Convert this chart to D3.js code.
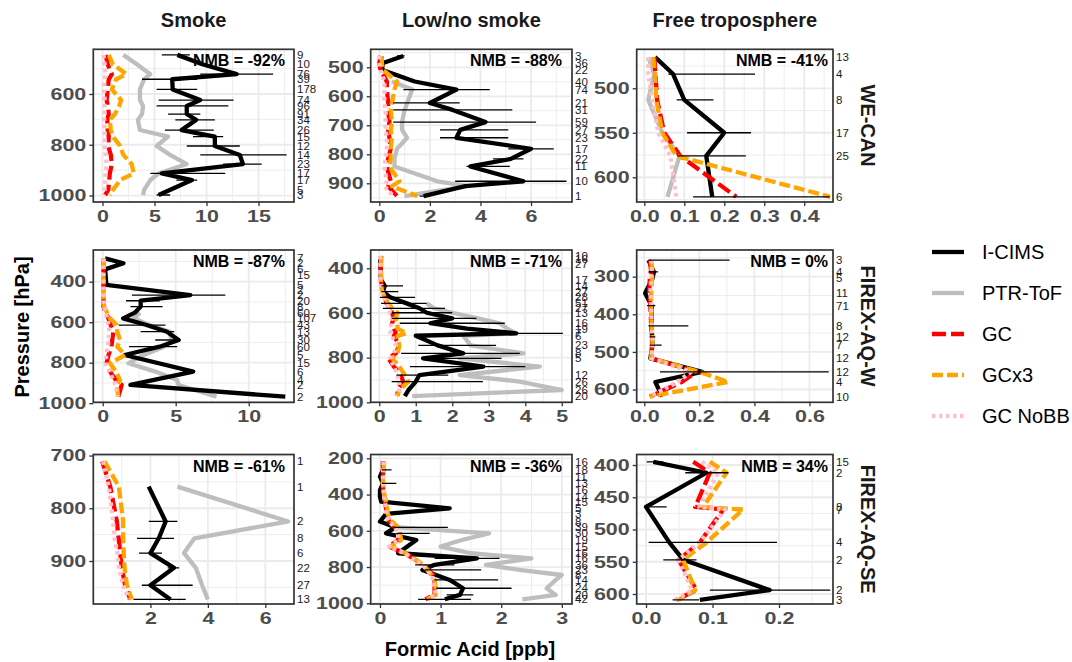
<!DOCTYPE html>
<html><head><meta charset="utf-8">
<script src="https://cdn.jsdelivr.net/npm/d3@7"></script>
<style>body{margin:0;background:#fff}svg{display:block}text{font-family:"Liberation Sans",Arial,Helvetica,sans-serif}</style>
</head><body><svg id="chart" width="1072" height="662"></svg>
<script>
const colTitles = ["Smoke", "Low/no smoke", "Free troposphere"];
const rowTitles = ["WE-CAN", "FIREX-AQ-W", "FIREX-AQ-SE"];
const seriesNames = ["I-CIMS", "PTR-ToF", "GC", "GCx3", "GC NoBB"];
const xTitle = "Formic Acid [ppb]";
const yTitle = "Pressure [hPa]";

// ---------- Panel 1: Smoke / WE-CAN ----------
const p1Pressure = [446, 483, 522, 542, 582, 624, 647, 679, 702, 742, 768, 805, 840, 876, 913, 939, 978, 998];
const p1Count = [9, 10, 76, 39, 178, 74, 96, 91, 34, 26, 15, 12, 14, 23, 17, 17, 5, 3];
const p1ICIMS = [7.2, 9.6, 12.9, 6.7, 6.75, 9.4, 8.1, 8.1, 9.0, 7.6, 10.8, 10.8, 13.2, 13.5, 5.7, 8.6, null, 5.4];
const p1Lo = [5.7, null, 9.4, 3.8, 5.2, 5.4, 5.2, 6.3, 7.0, 6.0, 8.7, 8.1, 9.4, 11.6, 4.6, 7.1, null, 5.2];
const p1Hi = [8.4, null, 16.4, 9.1, 9.1, 12.6, 12.1, 9.4, 10.8, 10.7, 11.6, 13.2, 17.7, 15.3, 11.8, 9.1, null, 6.5];
const p1PTR = [2.0, 3.3, 4.6, 4.0, 3.6, 3.6, 3.9, 3.8, 3.4, 3.6, 6.3, 5.2, 6.5, 8.1, 5.4, 4.6, 4.0, 3.9];
const p1GC = [0.3, 0.5, 0.9, 0.6, 0.5, 0.4, 0.5, 0.6, 0.45, 0.5, 0.6, 0.55, 0.8, 0.9, 0.7, 0.65, 0.55, 0.25];
const p1GCx3 = [0.6, 1.0, 2.3, 1.3, 0.9, 1.8, 1.6, 1.2, 0.7, 0.8, 1.0, 1.7, 2.0, 2.8, 3.0, 1.7, 1.0, 0.7];
const p1NoBB = [0.1, 0.2, 0.3, 0.2, 0.15, 0.2, 0.2, 0.2, 0.15, 0.2, 0.25, 0.2, 0.3, 0.4, 0.3, 0.25, 0.2, 0.1];
const p1XTicks = [0, 5, 10, 15];
const p1YTicks = [600, 800, 1000];
const p1XLim = [-0.885, 18.41];
const p1YLim = [424, 1025.5];
const p1NMB = "NMB = -92%";

// ---------- Panel 2: Low/no smoke / WE-CAN ----------
const p2Pressure = [461, 485, 509, 549, 577, 623, 647, 689, 716, 743, 781, 816, 842, 893, 910, 944];
const p2Count = [3, 36, 22, 40, 74, 21, 31, 59, 27, 23, 17, 22, 11, 10, null, 1];
const p2ICIMS = [0.95, 0.15, 0.1, 1.4, 3.05, 2.0, 2.9, 4.2, 3.2, 3.05, 6.0, 5.2, 3.6, 5.7, 3.4, 1.75];
const p2Lo = [0.7, null, null, null, 0.95, 0.55, 0.55, 0.55, 2.4, 2.4, 5.1, 4.5, 3.45, 3.0, null, 1.6];
const p2Hi = [1.0, null, null, null, 4.37, 3.18, 5.26, 6.2, 5.1, 5.1, 6.9, 5.7, 5.16, 7.4, null, 1.9];
const p2PTR = [null, null, null, 0.5, 1.3, 1.1, 1.0, 0.9, 0.9, 1.1, 0.7, 0.6, 0.6, 2.3, 3.5, 1.0];
const p2GC = [0.05, 0.0, 0.05, 0.3, 0.3, 0.35, 0.35, 0.4, 0.35, 0.4, 0.45, 0.35, 0.3, 0.45, 0.35, 0.7];
const p2GCx3 = [0.1, 0.1, 0.15, 0.7, 0.6, 0.5, 0.45, 0.5, 0.45, 0.5, 0.45, 0.45, 0.4, 0.8, 0.5, 1.5];
const p2NoBB = [0.0, 0.0, 0.05, 0.2, 0.2, 0.2, 0.25, 0.25, 0.25, 0.3, 0.3, 0.25, 0.2, 0.3, 0.2, 0.55];
const p2XTicks = [0, 2, 4, 6];
const p2YTicks = [500, 600, 700, 800, 900];
const p2XLim = [-0.34, 7.62];
const p2YLim = [438, 964.5];
const p2NMB = "NMB = -88%";

// ---------- Panel 3: Free troposphere / WE-CAN ----------
const p3Pressure = [465, 484, 513, 550, 576, 622];
const p3Count = [13, 4, 8, 17, 25, 6];
const p3ICIMS = [0.027, 0.072, 0.1, 0.2, 0.155, 0.17];
const p3Lo = [null, 0.06, 0.081, 0.107, 0.083, 0.122];
const p3Hi = [null, 0.277, 0.173, 0.267, 0.254, 0.464];
const p3PTR = [0.01, 0.025, 0.01, 0.045, 0.088, 0.058];
const p3GC = [0.025, 0.028, 0.032, 0.05, 0.09, 0.23];
const p3GCx3 = [0.022, 0.027, 0.03, 0.045, 0.08, 0.465];
const p3NoBB = [0.01, 0.01, 0.02, 0.035, 0.065, 0.08];
const p3XTicks = [0, 0.1, 0.2, 0.3, 0.4];
const p3YTicks = [500, 550, 600];
const p3XLim = [-0.019, 0.472];
const p3YLim = [456.2, 627.8];
const p3NMB = "NMB = -41%";

// ---------- Panel 4: Smoke / FIREX-AQ-W ----------
const p4Pressure = [285, 309, 339, 367, 416, 441, 466, 494, 523, 553, 581, 614, 647, 688, 721, 762, 803, 844, 886, 910, 968];
const p4Count = [7, 2, 6, 15, 5, 2, 2, 20, 8, 60, 107, 43, 13, 30, 60, 5, 15, 6, 4, 2, 2];
const p4ICIMS = [0.16, 1.42, 0.16, 0.2, 0.25, null, 6.0, 2.6, 2.6, 2.2, 1.4, 3.0, 4.4, 5.2, 3.9, 1.5, null, 6.2, null, 1.9, 12.5];
const p4Lo = [null, null, null, null, null, null, 2.0, 1.6, 1.9, null, null, 1.1, 2.6, 3.6, 1.8, null, null, null, null, null, null];
const p4Hi = [null, null, null, null, null, null, 8.4, 3.9, 4.1, null, null, 4.3, 4.9, 5.0, 5.1, null, null, null, null, null, null];
const p4PTR = [null, null, null, null, null, null, null, null, null, 2.56, 2.1, 3.2, 4.6, 4.7, 4.2, 2.8, 1.76, 3.6, 5.1, 5.2, 7.8];
const p4GC = [0.05, 0.05, 0.05, 0.05, 0.05, 0.05, 0.05, 0.05, 0.05, 0.2, 0.39, 0.55, 0.73, 0.65, 0.6, 0.4, 0.27, 0.5, 0.9, 1.3, 1.07];
const p4GCx3 = [0.1, 0.05, 0.05, 0.05, 0.05, 0.05, 0.05, 0.05, 0.1, 0.3, 0.5, 0.96, 1.0, 1.19, 1.0, 1.53, 0.5, 0.9, 1.19, 0.96, 1.07];
const p4NoBB = [0.05, 0.05, 0.05, 0.05, 0.05, 0.05, 0.05, 0.05, 0.1, 0.2, 0.3, 0.4, 0.45, 0.4, 0.35, 0.25, 0.2, 0.5, 0.7, 0.9, 1.0];
const p4XTicks = [0, 5, 10];
const p4YTicks = [400, 600, 800, 1000];
const p4XLim = [-0.644, 13.1];
const p4YLim = [243.5, 995.6];
const p4NMB = "NMB = -87%";

// ---------- Panel 5: Low/no smoke / FIREX-AQ-W ----------
const p5Pressure = [345, 360, 381, 452, 479, 504, 530, 557, 579, 599, 624, 646, 670, 691, 702, 745, 781, 803, 840, 878, 907, 945, 972];
const p5Count = [10, 16, 27, 17, 14, 27, 28, 51, 27, 13, null, 16, 19, 7, 6, 23, 8, 5, null, 12, 26, 26, 20];
const p5ICIMS = [0.03, 0.03, 0.03, 0.05, 0.15, 0.1, 0.3, 0.75, 1.1, 1.3, 2.0, 1.4, 2.4, 3.75, 1.0, 1.6, 2.3, 1.2, 2.85, 1.1, 1.0, 0.8, 0.7];
const p5Lo = [null, null, null, null, 0.06, 0.06, 0.02, 0.05, 0.1, 0.34, 0.34, 0.56, null, 2.47, null, 1.07, 0.6, 1.2, 0.84, 0.47, 0.34, null, null];
const p5Hi = [null, null, null, null, 0.65, 0.52, 0.98, 1.3, 1.8, 2.0, 2.66, 3.44, null, 5.03, null, 3.2, 3.85, 3.35, 4.0, 1.89, 2.84, null, null];
const p5PTR = [null, null, null, null, null, null, null, 1.3, 1.5, 2.0, 2.7, 3.3, 3.5, 3.75, 2.3, 2.5, 3.95, 2.2, 4.4, 2.2, 3.85, 5.0, 0.9];
const p5GC = [0.05, 0.05, 0.04, 0.04, 0.08, 0.1, 0.15, 0.2, 0.3, 0.35, 0.4, 0.35, 0.4, 0.45, 0.4, 0.55, 0.45, 0.25, 0.4, 0.6, 0.65, 0.5, 0.5];
const p5GCx3 = [0.03, 0.05, 0.05, 0.05, 0.05, 0.08, 0.15, 0.25, 0.35, 0.5, 0.45, 0.5, 0.5, 0.75, 0.5, 0.55, 0.5, 0.35, 0.55, 0.7, 0.8, 0.55, 0.5];
const p5NoBB = [0.02, 0.03, 0.03, 0.03, 0.05, 0.08, 0.12, 0.2, 0.25, 0.3, 0.35, 0.3, 0.35, 0.3, 0.35, 0.45, 0.4, 0.3, 0.4, 0.5, 0.55, 0.55, 0.45];
const p5XTicks = [0, 1, 2, 3, 4, 5];
const p5YTicks = [400, 600, 800, 1000];
const p5XLim = [-0.235, 5.28];
const p5YLim = [318, 1000];
const p5NMB = "NMB = -71%";

// ---------- Panel 6: Free troposphere / FIREX-AQ-W ----------
const p6Pressure = [256, 287, 304, 344, 377, 431, 460, 482, 517, 553, 580, 619];
const p6Count = [3, 4, 5, 11, 71, 8, 12, 7, 12, 12, 4, 10];
const p6ICIMS = [0.015, 0.035, 0.03, 0.003, 0.027, 0.027, 0.028, 0.03, 0.022, 0.21, 0.04, 0.065];
const p6Lo = [0.015, 0.015, null, null, 0.01, 0.015, 0.02, 0.02, null, 0.057, null, null];
const p6Hi = [0.31, 0.05, null, null, 0.04, 0.16, 0.04, 0.063, null, 0.67, null, null];
const p6PTR = [null, null, null, null, null, null, null, null, null, null, null, null];
const p6GC = [0.02, 0.025, 0.02, 0.018, 0.022, 0.025, 0.028, 0.028, 0.025, 0.19, 0.136, 0.02];
const p6GCx3 = [0.025, 0.03, 0.028, 0.025, 0.025, 0.027, 0.03, 0.03, 0.025, 0.2, 0.305, 0.02];
const p6NoBB = [0.025, 0.027, 0.025, 0.022, 0.025, 0.027, 0.03, 0.03, 0.025, 0.17, 0.12, 0.02];
const p6XTicks = [0, 0.2, 0.4, 0.6];
const p6YTicks = [300, 400, 500, 600];
const p6XLim = [-0.0276, 0.6855];
const p6YLim = [229, 634];
const p6NMB = "NMB = 0%";

// ---------- Panel 7: Smoke / FIREX-AQ-SE ----------
const p7Pressure = [711, 759, 825, 857, 885, 913, 946, 973];
const p7Count = [1, 1, 2, 8, 6, 22, 27, 13];
const p7ICIMS = [null, 1.94, 2.53, 2.29, 2.0, 2.82, 2.0, 2.7];
const p7Lo = [null, null, 1.94, 1.53, 1.6, 2.6, 1.7, 1.41];
const p7Hi = [null, null, 2.94, 2.82, 2.4, 3.0, 3.47, 3.23];
const p7PTR = [null, 2.94, 6.8, 3.53, 3.17, 3.58, 3.8, 4.0];
const p7GC = [0.32, 0.6, 0.83, 0.89, 0.95, 1.0, 1.12, 1.3];
const p7GCx3 = [0.4, 0.9, 1.05, 1.05, 1.07, 1.1, 1.18, 1.35];
const p7NoBB = [0.35, 0.55, 0.7, 0.75, 0.85, 0.9, 1.05, 1.25];
const p7XTicks = [2, 4, 6];
const p7YTicks = [700, 800, 900];
const p7XLim = [0.01, 7.0];
const p7YLim = [698, 981.6];
const p7NMB = "NMB = -61%";

// ---------- Panel 8: Low/no smoke / FIREX-AQ-SE ----------
const p8Pressure = [218, 264, 301, 338, 375, 412, 439, 476, 507, 549, 581, 614, 651, 687, 724, 752, 788, 816, 844, 871, 917, 954, 978];
const p8Count = [16, 18, 11, 13, 16, 14, 15, 5, 3, 8, 39, 30, 19, 15, 16, 16, 36, 23, 8, 14, 24, 20, 42];
const p8ICIMS = [0.05, 0.05, 0.0, 0.05, 0.0, 0.0, 0.02, 1.15, 0.1, 0.0, 0.25, 0.1, 0.6, 0.45, 0.3, 1.6, 0.9, 0.7, null, 1.15, 1.37, 1.32, 1.07];
const p8Lo = [null, 0.03, null, 0.03, null, null, null, null, null, null, 0.22, 0.27, null, null, null, 0.9, 0.58, 0.74, null, 0.9, 0.93, 1.1, 0.63];
const p8Hi = [null, 0.19, null, 0.27, null, null, null, null, null, null, 1.12, 0.82, null, null, null, 1.97, 1.23, 1.67, null, 1.95, 2.17, 1.54, 1.5];
const p8PTR = [null, null, null, null, null, null, null, null, null, null, 0.3, 1.8, 1.35, 1.0, 1.5, 2.5, 1.75, 2.3, 3.0, 2.9, 2.75, 2.9, 2.35];
const p8GC = [0.05, 0.05, 0.05, 0.05, 0.05, 0.05, 0.08, 0.1, 0.12, 0.15, 0.25, 0.3, 0.3, 0.15, 0.4, 0.55, 0.7, 0.8, 0.88, 0.9, 0.9, 0.9, 0.75];
const p8GCx3 = [0.07, 0.06, 0.05, 0.05, 0.06, 0.08, 0.1, 0.12, 0.13, 0.2, 0.3, 0.33, 0.35, 0.18, 0.42, 0.55, 0.72, 0.78, 0.85, 0.9, 0.92, 0.92, 0.78];
const p8NoBB = [0.06, 0.05, 0.05, 0.05, 0.06, 0.07, 0.08, 0.1, 0.1, 0.15, 0.25, 0.3, 0.3, 0.15, 0.4, 0.52, 0.7, 0.78, 0.85, 0.88, 0.9, 0.92, 0.78];
const p8XTicks = [0, 1, 2, 3];
const p8YTicks = [200, 400, 600, 800, 1000];
const p8XLim = [-0.153, 3.168];
const p8YLim = [179, 1004];
const p8NMB = "NMB = -36%";

// ---------- Panel 9: Free troposphere / FIREX-AQ-SE ----------
const p9Pressure = [395, 412, 465, 469, 520, 547, 594, 609];
const p9Count = [15, 2, 8, 7, 4, 2, 2, 3];
const p9ICIMS = [0.011, 0.091, 0.0, null, 0.035, 0.056, 0.186, 0.081];
const p9Lo = [0.001, 0.059, 0.001, null, 0.004, 0.026, 0.096, 0.04];
const p9Hi = [0.026, 0.124, 0.031, null, 0.197, 0.076, 0.277, 0.08];
const p9PTR = [null, null, null, null, null, null, null, null];
const p9GC = [0.071, 0.096, 0.074, 0.116, 0.081, 0.049, 0.076, 0.046];
const p9GCx3 = [0.096, 0.121, 0.086, 0.146, 0.091, 0.056, 0.074, 0.049];
const p9NoBB = [0.084, 0.109, 0.08, 0.119, 0.081, 0.049, 0.069, 0.044];
const p9XTicks = [0, 0.1, 0.2];
const p9YTicks = [400, 450, 500, 550, 600];
const p9XLim = [-0.014, 0.2812];
const p9YLim = [383.7, 615.5];
const p9NMB = "NMB = 34%";

// ---------- assemble ----------
const mk = (pressure, count, icims, lo, hi, ptr, gc, gcx3, nobb, xTicks, yTicks, xLim, yLim, nmb) =>
  ({pressure, count, icims, lo, hi, ptr, gc, gcx3, nobb, xTicks, yTicks, xLim, yLim, nmb});
const panels = [
  mk(p1Pressure, p1Count, p1ICIMS, p1Lo, p1Hi, p1PTR, p1GC, p1GCx3, p1NoBB, p1XTicks, p1YTicks, p1XLim, p1YLim, p1NMB),
  mk(p2Pressure, p2Count, p2ICIMS, p2Lo, p2Hi, p2PTR, p2GC, p2GCx3, p2NoBB, p2XTicks, p2YTicks, p2XLim, p2YLim, p2NMB),
  mk(p3Pressure, p3Count, p3ICIMS, p3Lo, p3Hi, p3PTR, p3GC, p3GCx3, p3NoBB, p3XTicks, p3YTicks, p3XLim, p3YLim, p3NMB),
  mk(p4Pressure, p4Count, p4ICIMS, p4Lo, p4Hi, p4PTR, p4GC, p4GCx3, p4NoBB, p4XTicks, p4YTicks, p4XLim, p4YLim, p4NMB),
  mk(p5Pressure, p5Count, p5ICIMS, p5Lo, p5Hi, p5PTR, p5GC, p5GCx3, p5NoBB, p5XTicks, p5YTicks, p5XLim, p5YLim, p5NMB),
  mk(p6Pressure, p6Count, p6ICIMS, p6Lo, p6Hi, p6PTR, p6GC, p6GCx3, p6NoBB, p6XTicks, p6YTicks, p6XLim, p6YLim, p6NMB),
  mk(p7Pressure, p7Count, p7ICIMS, p7Lo, p7Hi, p7PTR, p7GC, p7GCx3, p7NoBB, p7XTicks, p7YTicks, p7XLim, p7YLim, p7NMB),
  mk(p8Pressure, p8Count, p8ICIMS, p8Lo, p8Hi, p8PTR, p8GC, p8GCx3, p8NoBB, p8XTicks, p8YTicks, p8XLim, p8YLim, p8NMB),
  mk(p9Pressure, p9Count, p9ICIMS, p9Lo, p9Hi, p9PTR, p9GC, p9GCx3, p9NoBB, p9XTicks, p9YTicks, p9XLim, p9YLim, p9NMB)
];

const styles = {
  icims: {name: seriesNames[0], stroke: "#000000", dash: null},
  ptr:   {name: seriesNames[1], stroke: "#BEBEBE", dash: null},
  gc:    {name: seriesNames[2], stroke: "#FF0000", dash: "14,5"},
  gcx3:  {name: seriesNames[3], stroke: "#FFA500", dash: "11,4"},
  nobb:  {name: seriesNames[4], stroke: "#FFC0CB", dash: "3.5,3.5"}
};
const LW = 4.3;
const drawOrder = ["ptr", "icims", "gc", "gcx3", "nobb"];

const colX = [[93.3, 294], [370.7, 572], [636.7, 833]];
const rowY = [[49.3, 202], [250, 402.3], [454.5, 604]];
const nmbPad = [9, 10, 5];
const TS = 1.3; // horizontal stretch of tick labels seen in the reference

const svg = d3.select("#chart");
svg.append("rect").attr("width", 1072).attr("height", 662).attr("fill", "#fff");

function minorBreaks(ticks, lim) {
  const step = ticks[1] - ticks[0];
  const lo = Math.min(lim[0], lim[1]), hi = Math.max(lim[0], lim[1]);
  const out = [];
  for (let k = -10; k < ticks.length + 10; k++) {
    const v = ticks[0] + step * (k + 0.5);
    if (v > lo + 1e-9 && v < hi - 1e-9) out.push(v);
  }
  return out;
}

panels.forEach((P, i) => {
  const c = i % 3, r = Math.floor(i / 3);
  const [x0, x1] = colX[c], [y0, y1] = rowY[r];
  const x = d3.scaleLinear().domain(P.xLim).range([x0, x1]);
  const y = d3.scaleLinear().domain(P.yLim).range([y0, y1]);
  const g = svg.append("g");
  const cid = "clip" + i;
  svg.append("clipPath").attr("id", cid).append("rect")
    .attr("x", x0).attr("y", y0).attr("width", x1 - x0).attr("height", y1 - y0);
  g.append("rect").attr("x", x0).attr("y", y0).attr("width", x1 - x0).attr("height", y1 - y0).attr("fill", "#fff");

  const grid = g.append("g");
  minorBreaks(P.xTicks, P.xLim).forEach(v => grid.append("line").attr("x1", x(v)).attr("x2", x(v)).attr("y1", y0).attr("y2", y1).attr("stroke", "#EBEBEB").attr("stroke-width", 0.9));
  minorBreaks(P.yTicks, P.yLim).forEach(v => grid.append("line").attr("y1", y(v)).attr("y2", y(v)).attr("x1", x0).attr("x2", x1).attr("stroke", "#EBEBEB").attr("stroke-width", 0.9));
  P.xTicks.forEach(v => grid.append("line").attr("x1", x(v)).attr("x2", x(v)).attr("y1", y0).attr("y2", y1).attr("stroke", "#EBEBEB").attr("stroke-width", 1.8));
  P.yTicks.forEach(v => grid.append("line").attr("y1", y(v)).attr("y2", y(v)).attr("x1", x0).attr("x2", x1).attr("stroke", "#EBEBEB").attr("stroke-width", 1.8));

  const plot = g.append("g").attr("clip-path", `url(#${cid})`);
  const line = d3.line().x(d => x(d.v)).y(d => y(d.p));
  drawOrder.forEach(key => {
    const pts = P.pressure.map((p, j) => ({p, v: P[key][j]})).filter(d => d.v !== null && d.v !== undefined);
    if (pts.length < 2) return;
    const s = styles[key];
    const path = plot.append("path").datum(pts).attr("d", line)
      .attr("fill", "none").attr("stroke", s.stroke).attr("stroke-width", LW)
      .attr("stroke-linejoin", "round").attr("stroke-linecap", "butt");
    if (s.dash) path.attr("stroke-dasharray", s.dash);
  });
  P.pressure.forEach((p, j) => {
    if (P.lo[j] === null || P.hi[j] === null) return;
    plot.append("line").attr("x1", x(P.lo[j])).attr("x2", x(P.hi[j])).attr("y1", y(p)).attr("y2", y(p))
      .attr("stroke", "#000").attr("stroke-width", 1.3);
  });

  g.append("rect").attr("x", x0).attr("y", y0).attr("width", x1 - x0).attr("height", y1 - y0)
    .attr("fill", "none").attr("stroke", "#333333").attr("stroke-width", 1.7);

  const fmt = c === 2 ? d3.format(".1f") : d3.format("d");
  const xa = g.append("g").attr("transform", `translate(0,${y1})`)
    .call(d3.axisBottom(x).tickValues(P.xTicks).tickSize(4).tickPadding(4).tickFormat(fmt));
  const ya = g.append("g").attr("transform", `translate(${x0},0)`)
    .call(d3.axisLeft(y).tickValues(P.yTicks).tickSize(4).tickPadding(3).tickFormat(d3.format("d")));
  [xa, ya].forEach(a => {
    a.select(".domain").remove();
    a.selectAll(".tick line").attr("stroke", "#333333").attr("stroke-width", 1.3);
    a.selectAll(".tick text").attr("fill", "#4D4D4D").style("font-size", "16.5px").style("font-weight", "bold")
      .style("font-family", '"Liberation Sans", Arial, sans-serif')
      .each(function () {
        const t = d3.select(this);
        const tx = +t.attr("x") || 0, ty = +t.attr("y") || 0;
        t.attr("x", 0).attr("y", 0).attr("transform", `translate(${tx},${ty}) scale(${TS},1)`);
      });
  });

  P.pressure.forEach((p, j) => {
    if (P.count[j] === null) return;
    g.append("text").attr("x", x1 + 3).attr("y", y(p)).attr("dy", "0.35em")
      .attr("font-size", 11.5).attr("fill", "#1a1a1a").text(P.count[j]);
  });

  g.append("text").attr("x", x1 - nmbPad[c]).attr("y", y0 + 17).attr("text-anchor", "end")
    .attr("font-size", 16).attr("font-weight", "bold").attr("fill", "#000").text(P.nmb);
});

// column titles
colTitles.forEach((t, c) => {
  svg.append("text").attr("x", (colX[c][0] + colX[c][1]) / 2).attr("y", 27).attr("text-anchor", "middle")
    .attr("font-size", 20).attr("font-weight", "bold").attr("fill", "#1a1a1a").text(t);
});
// row strip titles
rowTitles.forEach((t, r) => {
  svg.append("text").attr("transform", `translate(861,${(rowY[r][0] + rowY[r][1]) / 2}) rotate(90)`)
    .attr("text-anchor", "middle").attr("font-size", 20).attr("font-weight", "bold").attr("fill", "#1a1a1a").text(t);
});
// axis titles
svg.append("text").attr("transform", "translate(29,327) rotate(-90)").attr("text-anchor", "middle")
  .attr("font-size", 20).attr("font-weight", "bold").attr("fill", "#000").text(yTitle);
svg.append("text").attr("x", 470).attr("y", 656).attr("text-anchor", "middle")
  .attr("font-size", 20).attr("font-weight", "bold").attr("fill", "#000").text(xTitle);

// legend
const legKeys = ["icims", "ptr", "gc", "gcx3", "nobb"];
const legY = d3.scalePoint().domain(legKeys).range([252, 416]);
legKeys.forEach(k => {
  const s = styles[k];
  const ln = svg.append("line").attr("x1", 932).attr("x2", 964).attr("y1", legY(k)).attr("y2", legY(k))
    .attr("stroke", s.stroke).attr("stroke-width", LW);
  if (s.dash) ln.attr("stroke-dasharray", s.dash);
  svg.append("text").attr("x", 982).attr("y", legY(k)).attr("dy", "0.35em")
    .attr("font-size", 20).attr("fill", "#000").text(s.name);
});
</script></body></html>
